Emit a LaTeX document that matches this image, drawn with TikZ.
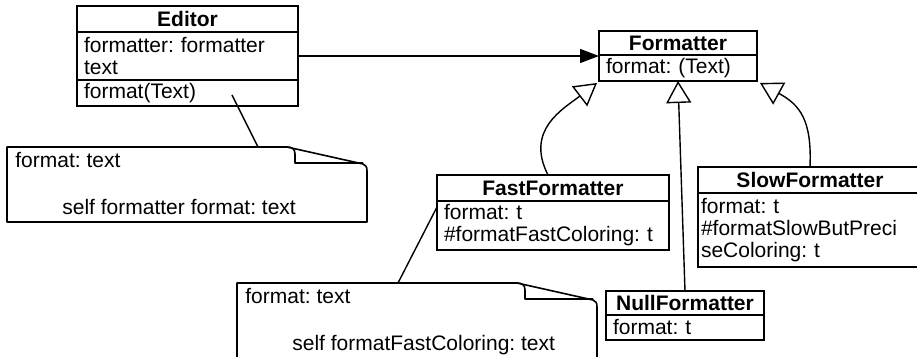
\documentclass[tikz,border=0pt]{standalone}
\usepackage{fontspec}
\setmainfont{Liberation Sans}
\usepackage{tikz}
\usetikzlibrary{positioning, arrows.meta, calc}

\newcommand{\umlfont}{\fontsize{10.5pt}{11pt}\selectfont\frenchspacing}

\tikzset{
    classtitle/.style={draw, line width=0.9pt, font=\umlfont\bfseries,
        inner sep=0pt, outer sep=0pt, anchor=north west},
    classbody/.style={draw, line width=0.9pt, font=\umlfont, align=left,
        inner xsep=3.5pt, inner ysep=0pt, outer sep=0pt},
    notetext/.style={font=\umlfont, align=left, inner xsep=4pt,
        inner ysep=2.5pt, anchor=north west},
    noteline/.style={line width=0.8pt, line join=round},
    notelink/.style={line width=0.7pt},
    assoc/.style={line width=0.7pt, -{Triangle[length=9.5pt, width=7pt]}},
    inherit/.style={line width=0.7pt, -{Triangle[open, length=11pt, width=12.5pt]}},
    notepage/.pic={
        % outline with the folded corner
        \draw[noteline] (0,0) -- (280,0) -- (356,17)
            .. controls (359,18) and (360,20) .. (360,24) -- (360,75) -- (0,75) -- cycle;
        \draw[noteline] (280,0) .. controls (285,0) and (288,2) .. (288,7)
            -- (288,16) -- (356,16);
    }
}

\begin{document}
\begin{tikzpicture}[x=0.5pt, y=-0.5pt]
    \useasboundingbox (0,0) rectangle (917,357);

    % classes
    \node[classtitle, minimum width=110.5pt, minimum height=13pt] (editor) at (77,6) {Editor};
    \node[classbody, text width=103.5pt, minimum height=24pt, below=0pt of editor] (editorattr)
        {formatter: formatter\\text};
    \node[classbody, text width=103.5pt, minimum height=13pt, below=0pt of editorattr] (editormeth)
        {format(Text)};

    \node[classtitle, minimum width=79pt, minimum height=12pt] (formatter) at (599,31) {Formatter};
    \node[classbody, text width=72pt, minimum height=13pt, below=0pt of formatter] (formatterattr)
        {format: (Text)};

    \node[classtitle, minimum width=116pt, minimum height=13pt] (fast) at (437,175) {FastFormatter};
    \node[classbody, text width=109pt, minimum height=24.5pt, below=0pt of fast] (fastattr)
        {format: t\\\#formatFastColoring: t};

    \node[classtitle, minimum width=112pt, minimum height=13pt] (slow) at (698,167) {SlowFormatter};
    \node[classbody, inner xsep=1.5pt, text width=109pt, minimum height=37pt, below=0pt of slow] (slowattr)
        {format: t\\\#formatSlowButPreci\\seColoring: t};

    \node[classtitle, minimum width=79pt, minimum height=12pt] (null) at (606,291) {NullFormatter};
    \node[classbody, text width=72pt, minimum height=12.5pt, below=0pt of null] (nullattr)
        {format: t};

    % notes
    \pic at (7,147) {notepage};
    \node[notetext] (note1) at (7,147)
        {format: text\\[12.5pt]\hspace*{23.5pt}self formatter format: text};
    \pic at (237,283) {notepage};
    \node[notetext] (note2) at (237,283)
        {format: text\\[12.5pt]\hspace*{23.5pt}self formatFastColoring: text};

    \coordinate (editorpin) at (232,95);
    \coordinate (note1pin) at (258,147);
    \coordinate (fastpin) at (437,207);
    \coordinate (note2pin) at (398,283);

    % connectors
    \draw[assoc] (editorattr.east) -- (editorattr.east -| formatter.west);
    \draw[notelink] (editorpin) -- (note1pin);
    \draw[notelink] (fastpin) -- (note2pin);
    \draw[inherit] ([xshift=-2.5pt]fast.north) .. controls (525,130) and (563,109)
        .. ([xshift=-1pt,yshift=-1pt]formatterattr.south west);
    \draw[inherit] (null.north) -- (formatterattr.south);
    \draw[inherit] (slow.north) .. controls (812,120) and (800,105)
        .. ([xshift=1.5pt,yshift=-1pt]formatterattr.south east);
\end{tikzpicture}
\end{document}
